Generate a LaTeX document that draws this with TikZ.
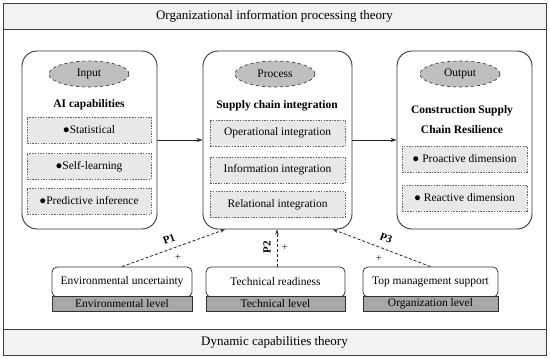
\documentclass[tikz,border=0pt]{standalone}
\usepackage{fontspec}
\setmainfont{Liberation Serif}
\usetikzlibrary{arrows.meta,shapes.geometric}
\begin{document}
\begin{tikzpicture}[x=1pt,y=-1pt,
  txt/.style={font=\fontsize{11.5}{13}\selectfont},
  band/.style={draw=black!75, line width=0.9pt, fill=black!5, minimum width=543pt, minimum height=26pt, inner sep=0pt, font=\fontsize{13}{15}\selectfont},
  frame/.style={draw=black!75, line width=0.9pt, minimum width=543pt, minimum height=352pt, inner sep=0pt},
  bigbox/.style={draw=black!80, line width=0.9pt, rounded corners=15pt, minimum width=#1, minimum height=178pt, inner sep=0pt},
  oval/.style={ellipse, draw=black!75, dashed, line width=0.7pt, fill=black!25, minimum width=80pt, minimum height=26pt, inner sep=0pt, txt},
  title/.style={font=\bfseries\fontsize{11.5}{20}\selectfont, align=center},
  dbox/.style={draw=black!60, line width=0.6pt, dash pattern=on 1.5pt off 1.2pt, fill=black!9, minimum width=#1, minimum height=26pt, inner sep=0pt, txt},
  lvlbox/.style={draw=black!80, line width=0.8pt, rounded corners=5pt, fill=white, minimum width=#1, minimum height=30pt, inner sep=0pt, txt},
  lvlbar/.style={draw=black!80, line width=0.8pt, fill=black!35, minimum width=#1, minimum height=15pt, inner sep=0pt, txt},
  arr/.style={-{Stealth[length=6pt,width=4pt]}, line width=1pt, black!85},
  darr/.style={-{Stealth[length=5pt,width=3.5pt]}, line width=0.8pt, dash pattern=on 3pt off 2pt, black!85},
  plabel/.style={font=\bfseries\fontsize{11}{13}\selectfont, inner sep=0pt},
  plus/.style={font=\fontsize{10}{12}\selectfont, inner sep=0pt}]
\useasboundingbox[fill=white] (0,0) rectangle (550,359);
% frame and bands
\node[frame] (outer) at (274.5,179) {};
\node[band] (topband) at (274.5,16) {Organizational information processing theory};
\node[band] (botband) at (274.5,342) {Dynamic capabilities theory};
% big boxes
\node[bigbox=135pt] (inbox) at (89.5,140) {};
\node[bigbox=149pt] (procbox) at (277.5,140) {};
\node[bigbox=135pt] (outbox) at (464.5,140) {};
% ellipses
\node[oval] (inell) at (89,74) {Input};
\node[oval] (procell) at (275,74) {Process};
\node[oval] (outell) at (460,74) {Output};
% titles
\node[title] (intitle) at (89,105) {AI capabilities};
\node[title] (proctitle) at (277,106) {Supply chain integration};
\node[title] (outtitle) at (462,120) {Construction Supply\\Chain Resilience};
% dashed boxes
\node[dbox=124pt] (in1) at (89,130) {●Statistical};
\node[dbox=124pt] (in2) at (89,166.5) {●Self-learning};
\node[dbox=124pt] (in3) at (89,201) {●Predictive inference};
\node[dbox=135pt] (pr1) at (277.5,133) {Operational integration};
\node[dbox=135pt] (pr2) at (277.5,170) {Information integration};
\node[dbox=135pt] (pr3) at (277.5,204.5) {Relational integration};
\node[dbox=125pt] (out1) at (464.5,159) {● Proactive dimension};
\node[dbox=125pt] (out2) at (464.5,198) {● Reactive dimension};
% bottom boxes
\node[lvlbox=140pt] (envbox) at (122,282) {Environmental uncertainty};
\node[lvlbar=140pt] (envbar) at (122,303.5) {Environmental level};
\node[lvlbox=139pt] (techbox) at (275.5,282) {Technical readiness};
\node[lvlbar=139pt] (techbar) at (275.5,303.5) {Technical level};
\node[lvlbox=135pt] (orgbox) at (430.5,282) {Top management support};
\node[lvlbar=135pt] (orgbar) at (430.5,303.5) {Organization level};
% arrows
\draw[arr] (inbox) -- (procbox);
\draw[arr] (procbox) -- (outbox);
\coordinate (p1end) at ([xshift=-52.5pt]procbox.south);
\coordinate (p3end) at ([xshift=55.5pt]procbox.south);
\draw[darr] (envbox.north) -- (p1end);
\draw[darr] ([xshift=1.5pt]techbox.north) -- ([xshift=1.5pt]techbox.north |- procbox.south);
\draw[darr] (orgbox.north) -- (p3end);
% labels
\node[plabel, rotate=20] (p1) at (169,239) {P1};
\node[plus] (plus1) at (178,258) {+};
\node[plabel, rotate=90] (p2) at (267,247) {P2};
\node[plus] (plus2) at (285,248) {+};
\node[plabel, rotate=-21] (p3) at (386,238) {P3};
\node[plus] (plus3) at (379,259) {+};
\end{tikzpicture}
\end{document}
